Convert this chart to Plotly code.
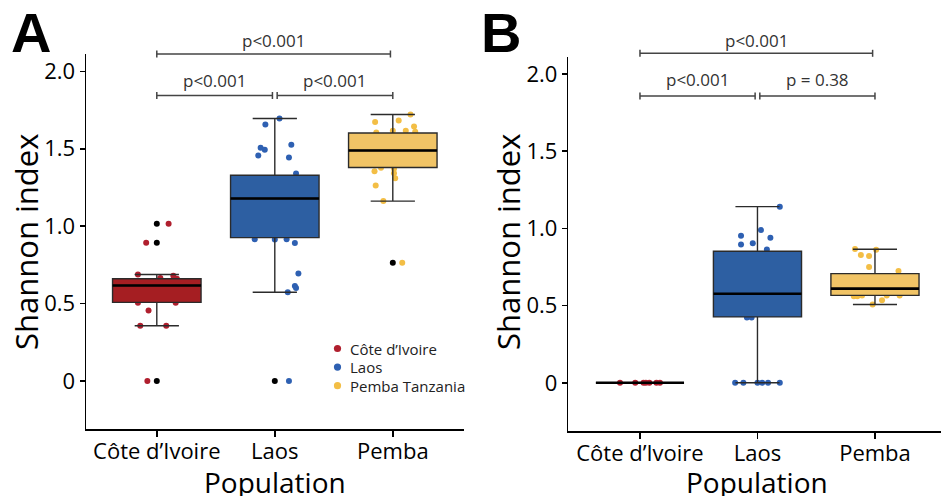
import plotly.graph_objects as go

# ---------------- data ----------------
categories = ["Côte d’Ivoire", "Laos", "Pemba"]
legend_labels = ["Côte d’Ivoire", "Laos", "Pemba Tanzania"]
y_tick_vals = [0, 0.5, 1.0, 1.5, 2.0]
y_tick_text = ["0", "0.5", "1.0", "1.5", "2.0"]

# Panel A: box statistics per population
a_q1 = [0.508, 0.926, 1.379]
a_median = [0.617, 1.179, 1.489]
a_q3 = [0.660, 1.329, 1.602]
a_lower = [0.357, 0.573, 1.162]
a_upper = [0.688, 1.695, 1.721]
# Panel A: outliers (group index, value)
a_out_group = [0, 0, 0, 1, 2]
a_out_val = [1.015, 0.893, 0.0, 0.0, 0.764]

# Panel A: individual values with jitter offsets
a_ci_val = [1.015, 0.893, 0.688, 0.680, 0.665, 0.660, 0.630, 0.600, 0.560, 0.506, 0.506, 0.455, 0.357, 0.357, 0.0]
a_ci_jit = [0.10, -0.09, -0.16, 0.14, 0.03, 0.17, -0.03, -0.10, 0.05, -0.16, 0.16, -0.07, -0.14, 0.08, -0.08]
a_laos_val = [1.695, 1.656, 1.526, 1.506, 1.494, 1.457, 1.444, 1.340, 1.280, 1.200, 1.050,
              0.916, 0.914, 0.916, 0.892, 0.695, 0.613, 0.600, 0.573, 0.0]
a_laos_jit = [0.04, -0.08, 0.14, -0.12, -0.085, -0.14, 0.12, 0.18, -0.10, 0.10, -0.05,
              -0.17, 0.00, 0.10, 0.17, 0.20, 0.17, 0.18, 0.11, 0.12]
a_pemba_val = [1.721, 1.682, 1.673, 1.643, 1.617, 1.617, 1.610, 1.605, 1.550, 1.500, 1.450,
               1.378, 1.370, 1.355, 1.342, 1.310, 1.262, 1.162, 0.764]
a_pemba_jit = [0.15, 0.05, -0.15, 0.18, 0.11, 0.00, 0.19, -0.14, 0.10, -0.05, 0.05,
               -0.10, 0.01, -0.155, 0.01, 0.02, -0.145, -0.08, 0.08]

# Panel B: box statistics
b_q1 = [0.0, 0.427, 0.566]
b_median = [0.0, 0.577, 0.610]
b_q3 = [0.0, 0.852, 0.707]
b_lower = [0.0, 0.0, 0.507]
b_upper = [0.0, 1.141, 0.865]

# Panel B: individual values with jitter offsets
b_ci_val = [0.0, 0.0, 0.0, 0.0, 0.0, 0.0, 0.0]
b_ci_jit = [-0.17, -0.04, 0.03, 0.05, 0.08, 0.14, 0.17]
b_laos_val = [1.141, 0.989, 0.952, 0.939, 0.904, 0.896, 0.863, 0.750, 0.650, 0.580, 0.500,
              0.423, 0.423, 0.0, 0.0, 0.0, 0.0, 0.0, 0.0]
b_laos_jit = [0.19, 0.03, -0.14, 0.11, -0.04, -0.14, 0.08, 0.05, -0.10, 0.12, 0.00,
              -0.09, -0.05, -0.19, -0.12, 0.00, 0.04, 0.09, 0.19]
b_pemba_val = [0.867, 0.861, 0.828, 0.822, 0.750, 0.724, 0.680, 0.650, 0.620, 0.600,
               0.566, 0.566, 0.566, 0.560, 0.560, 0.535, 0.507]
b_pemba_jit = [-0.17, 0.01, -0.12, -0.05, -0.05, 0.20, 0.05, -0.08, 0.10, 0.00,
               -0.11, 0.10, 0.21, -0.18, -0.15, 0.06, -0.02]

# Significance comparisons (group pairs and labels)
a_pairs = [(0, 2), (0, 1), (1, 2)]
a_labels = ["p<0.001", "p<0.001", "p<0.001"]
b_pairs = [(0, 2), (0, 1), (1, 2)]
b_labels = ["p<0.001", "p<0.001", "p = 0.38"]

# ---------------- styling ----------------
FONT = "Open Sans, Lato, DejaVu Sans, sans-serif"
point_colors = ["#B01F2E", "#2E60B2", "#F3BE45"]
box_fills = ["#A51E22", "#2D5FA2", "#F1C466"]
W, H = 941, 496

fig = go.Figure()


def add_points(vals_list, jits_list, xa, ya):
    for g, (vals, jits) in enumerate(zip(vals_list, jits_list)):
        fig.add_trace(go.Scatter(
            x=[g + j for j in jits], y=vals, mode="markers",
            marker=dict(color=point_colors[g], size=6, line=dict(width=0)),
            xaxis=xa, yaxis=ya, showlegend=False, hoverinfo="skip"))


def add_boxes(q1, med, q3, lo, hi, xa, ya):
    for g in range(3):
        fig.add_trace(go.Box(
            x=[g], q1=[q1[g]], median=[med[g]], q3=[q3[g]],
            lowerfence=[lo[g]], upperfence=[hi[g]],
            width=0.75, fillcolor=box_fills[g],
            line=dict(color="#2b2b2b", width=1.4),
            boxpoints=False, xaxis=xa, yaxis=ya, showlegend=False,
            hoverinfo="skip"))


# panel A
add_points([a_ci_val, a_laos_val, a_pemba_val], [a_ci_jit, a_laos_jit, a_pemba_jit], "x", "y")
add_boxes(a_q1, a_median, a_q3, a_lower, a_upper, "x3", "y3")
fig.add_trace(go.Scatter(x=a_out_group, y=a_out_val, mode="markers",
                         marker=dict(color="black", size=6), xaxis="x3", yaxis="y3",
                         showlegend=False, hoverinfo="skip"))
# panel B
add_points([b_ci_val, b_laos_val, b_pemba_val], [b_ci_jit, b_laos_jit, b_pemba_jit], "x2", "y2")
add_boxes(b_q1, b_median, b_q3, b_lower, b_upper, "x4", "y4")

# medians as thicker black lines
for med, xr, yr in [(a_median, "x", "y"), (b_median, "x2", "y2")]:
    for g, m in enumerate(med):
        fig.add_shape(type="line", xref=xr, yref=yr, x0=g - 0.375, x1=g + 0.375,
                      y0=m, y1=m, line=dict(color="black", width=2.6), layer="above")

# geometry (pixels)
A_L, A_R, A_T, A_B = 86, 463.6, 54.3, 429.3
B_L, B_R, B_T, B_B = 568.3, 941, 57, 431
YR = [-0.312, 2.11]


def px_x(p):
    return p / W


def px_y(p):
    return (H - p) / H


axis_common = dict(showline=True, linecolor="black", linewidth=1.5, ticks="outside",
                   tickcolor="black", tickwidth=1.5, showgrid=False, zeroline=False,
                   automargin=False,
                   tickfont=dict(family=FONT, size=22, color="black"), fixedrange=True)

fig.update_layout(
    width=W, height=H, margin=dict(l=0, r=0, t=0, b=0, autoexpand=False),
    paper_bgcolor="white", plot_bgcolor="white", showlegend=False,
    font=dict(family=FONT, color="black"),
    xaxis=dict(domain=[px_x(A_L), px_x(A_R)], range=[-0.6, 2.6], anchor="y",
               tickvals=[0, 1, 2], ticktext=categories, ticklen=6, ticklabelstandoff=-4,
               **axis_common),
    yaxis=dict(domain=[px_y(A_B), px_y(A_T)], range=YR, anchor="x",
               tickvals=y_tick_vals, ticktext=y_tick_text, ticklen=5, **axis_common),
    xaxis2=dict(domain=[px_x(B_L), px_x(B_R)], range=[-0.61, 2.562], anchor="y2",
                tickvals=[0, 1, 2], ticktext=categories, ticklen=6, ticklabelstandoff=-4,
                **axis_common),
    yaxis2=dict(domain=[px_y(B_B), px_y(B_T)], range=YR, anchor="x2",
                tickvals=y_tick_vals, ticktext=y_tick_text, ticklen=5, **axis_common),
    xaxis3=dict(overlaying="x", range=[-0.6, 2.6], visible=False, anchor="y3"),
    yaxis3=dict(overlaying="y", range=YR, visible=False, anchor="x3"),
    xaxis4=dict(overlaying="x2", range=[-0.61, 2.562], visible=False, anchor="y4"),
    yaxis4=dict(overlaying="y2", range=YR, visible=False, anchor="x4"),
)


# significance brackets
def add_brackets(pairs, labels, xr, yr, top_y, low_y, top_ty, low_ty, dom_h):
    tick = 3.5 / dom_h
    for (i, j), lab in zip(pairs, labels):
        x0 = i + (0.02 if i == 1 else 0.0)
        x1 = j - (0.02 if (j == 1 or j - i == 2) else 0.0)
        yy = top_y if j - i == 2 else low_y
        ty = top_ty if j - i == 2 else low_ty
        for xx0, xx1, ya, yb in [(x0, x1, yy, yy), (x0, x0, yy - tick, yy + tick), (x1, x1, yy - tick, yy + tick)]:
            fig.add_shape(type="line", xref=xr, yref=yr + " domain", x0=xx0, x1=xx1,
                          y0=ya, y1=yb, line=dict(color="#444444", width=1.5))
        fig.add_annotation(x=(x0 + x1) / 2, y=ty, xref=xr, yref=yr + " domain", text=lab,
                           showarrow=False, font=dict(family=FONT, size=17, color="#333333"),
                           xanchor="center", yanchor="middle")


add_brackets(a_pairs, a_labels, "x", "y", (A_B - 54) / (A_B - A_T), (A_B - 95.5) / (A_B - A_T),
             (A_B - 41) / (A_B - A_T), (A_B - 80) / (A_B - A_T), A_B - A_T)
add_brackets(b_pairs, b_labels, "x2", "y2", (B_B - 53.3) / (B_B - B_T), (B_B - 96) / (B_B - B_T),
             (B_B - 41) / (B_B - B_T), (B_B - 80) / (B_B - B_T), B_B - B_T)

# axis titles & panel letters
for cx, txt in [(275, "Population"), (757, "Population")]:
    fig.add_annotation(x=px_x(cx), y=px_y(482), xref="paper", yref="paper", text=txt,
                       showarrow=False, font=dict(family=FONT, size=28, color="black"),
                       xanchor="center", yanchor="middle")
for cx in [26, 508]:
    fig.add_annotation(x=px_x(cx), y=px_y(242), xref="paper", yref="paper", text="Shannon index",
                       showarrow=False, textangle=-90,
                       font=dict(family=FONT, size=31, color="black"),
                       xanchor="center", yanchor="middle")
for cx, letter in [(31, "A"), (501, "B")]:
    fig.add_annotation(x=px_x(cx), y=px_y(32), xref="paper", yref="paper", text="<b>" + letter + "</b>",
                       showarrow=False, font=dict(family="Liberation Sans, Arial, sans-serif", size=56, color="black"),
                       xanchor="center", yanchor="middle")

# manual legend
for k, (lab, col) in enumerate(zip(legend_labels, point_colors)):
    cy = 348.5 + k * 18.6
    cx = 337.5
    r = 3.6
    fig.add_shape(type="circle", xref="paper", yref="paper",
                  x0=px_x(cx - r), x1=px_x(cx + r), y0=px_y(cy + r), y1=px_y(cy - r),
                  fillcolor=col, line=dict(width=0))
    fig.add_annotation(x=px_x(348), y=px_y(cy), xref="paper", yref="paper", text=lab,
                       showarrow=False, font=dict(family=FONT, size=15, color="#222222"),
                       xanchor="left", yanchor="middle")

fig.write_html("out.html", config={"displayModeBar": False, "staticPlot": True},
               post_script="document.body.style.margin='0';document.body.style.padding='0';"
                           "document.body.style.overflow='hidden';")
